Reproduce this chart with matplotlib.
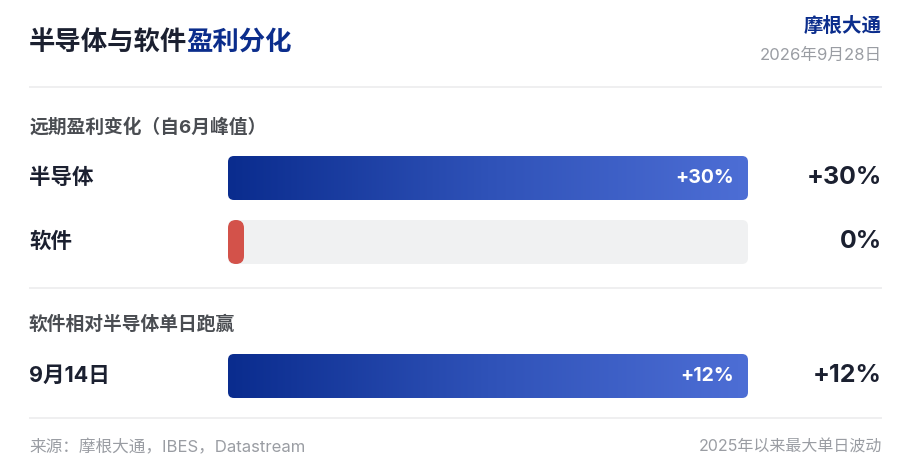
import numpy as np
import matplotlib
matplotlib.use("Agg")
import matplotlib.pyplot as plt
from matplotlib.patches import FancyBboxPatch
from matplotlib.colors import LinearSegmentedColormap

plt.rcParams['font.family'] = ['Inter', 'Noto Sans CJK SC', 'DejaVu Sans']

# data
title_dark = "半导体与软件"
title_blue = "盈利分化"
brand = "摩根大通"
date_text = "2026年9月28日"

section1_title = "远期盈利变化（自6月峰值）"
section1_labels = ["半导体", "软件"]
section1_values = [30, 0]

section2_title = "软件相对半导体单日跑赢"
section2_labels = ["9月14日"]
section2_values = [12]

footer_left = "来源：摩根大通，IBES，Datastream"
footer_right = "2025年以来最大单日波动"

# styles
W, H = 914, 476
DARK = "#1b2030"
BLUE = "#0b2d8c"
GRAY = "#9a9da3"
SUB = "#4a4d52"
LINE = "#ececee"
TRACK = "#f0f1f2"
RED = "#d3524a"
X0, X1 = 228, 748
BAR_H = 44
grad = LinearSegmentedColormap.from_list("g", ["#0a2c8e", "#2f52b8", "#4d6ed5"])

fig = plt.figure(figsize=(W / 100, H / 100), dpi=100)
ax = fig.add_axes([0, 0, 1, 1])
ax.set_xlim(0, W)
ax.set_ylim(H, 0)
ax.axis("off")


def fmt(v):
    return f"+{v}%" if v > 0 else f"{v}%"


def draw_row(label, value, vmax, yc):
    ax.text(29, yc, label, fontsize=15.5, fontweight="bold", color=DARK,
            va="center", ha="left")
    y0 = yc - BAR_H / 2
    track = FancyBboxPatch((X0, y0), X1 - X0, BAR_H,
                           boxstyle="round,pad=0,rounding_size=6",
                           fc=TRACK, ec="none")
    ax.add_patch(track)
    if value > 0:
        w = (X1 - X0) * value / vmax
        bar = FancyBboxPatch((X0, y0), w, BAR_H,
                             boxstyle="round,pad=0,rounding_size=6",
                             fc="none", ec="none")
        ax.add_patch(bar)
        img = ax.imshow(np.linspace(0, 1, 256).reshape(1, -1), cmap=grad,
                        aspect="auto", extent=(X0, X0 + w, y0 + BAR_H, y0),
                        zorder=2)
        img.set_clip_path(bar)
        ax.text(X0 + w - 14, yc, fmt(value), fontsize=14, fontweight="bold",
                color="white", va="center", ha="right", zorder=3)
    else:
        pill = FancyBboxPatch((X0, y0), 16, BAR_H,
                              boxstyle="round,pad=0,rounding_size=8",
                              fc=RED, ec="none", zorder=2)
        ax.add_patch(pill)
    ax.text(882, yc, fmt(value), fontsize=18, fontweight="bold", color=DARK,
            va="center", ha="right")


def hline(y):
    ax.plot([29, 882], [y, y], color=LINE, lw=1.2, solid_capstyle="butt")


# header
t1 = ax.text(29, 43, title_dark, fontsize=19, fontweight="bold", color=DARK,
             va="center", ha="left")
fig.canvas.draw()
bb = t1.get_window_extent()
ax.text(29 + bb.width - 1, 43, title_blue, fontsize=19, fontweight="bold",
        color=BLUE, va="center", ha="left")
ax.text(882, 26, brand, fontsize=14, fontweight="bold", color=BLUE,
        va="center", ha="right")
ax.text(882, 55, date_text, fontsize=12, color=GRAY, va="center", ha="right")
hline(87)

# section 1
ax.text(29, 127, section1_title, fontsize=13.5, fontweight="bold", color=SUB,
        va="center", ha="left")
vmax1 = max(section1_values)
for lab, val, yc in zip(section1_labels, section1_values, [178, 242]):
    draw_row(lab, val, vmax1, yc)
hline(288)

# section 2
ax.text(29, 325, section2_title, fontsize=13.5, fontweight="bold", color=SUB,
        va="center", ha="left")
vmax2 = max(section2_values)
for lab, val, yc in zip(section2_labels, section2_values, [376]):
    draw_row(lab, val, vmax2, yc)
hline(418)

# footer
ax.text(29, 447, footer_left, fontsize=12, color=GRAY, va="center", ha="left")
ax.text(882, 447, footer_right, fontsize=11.5, color=GRAY, va="center", ha="right")

fig.savefig("out.png", dpi=100, facecolor="white")
